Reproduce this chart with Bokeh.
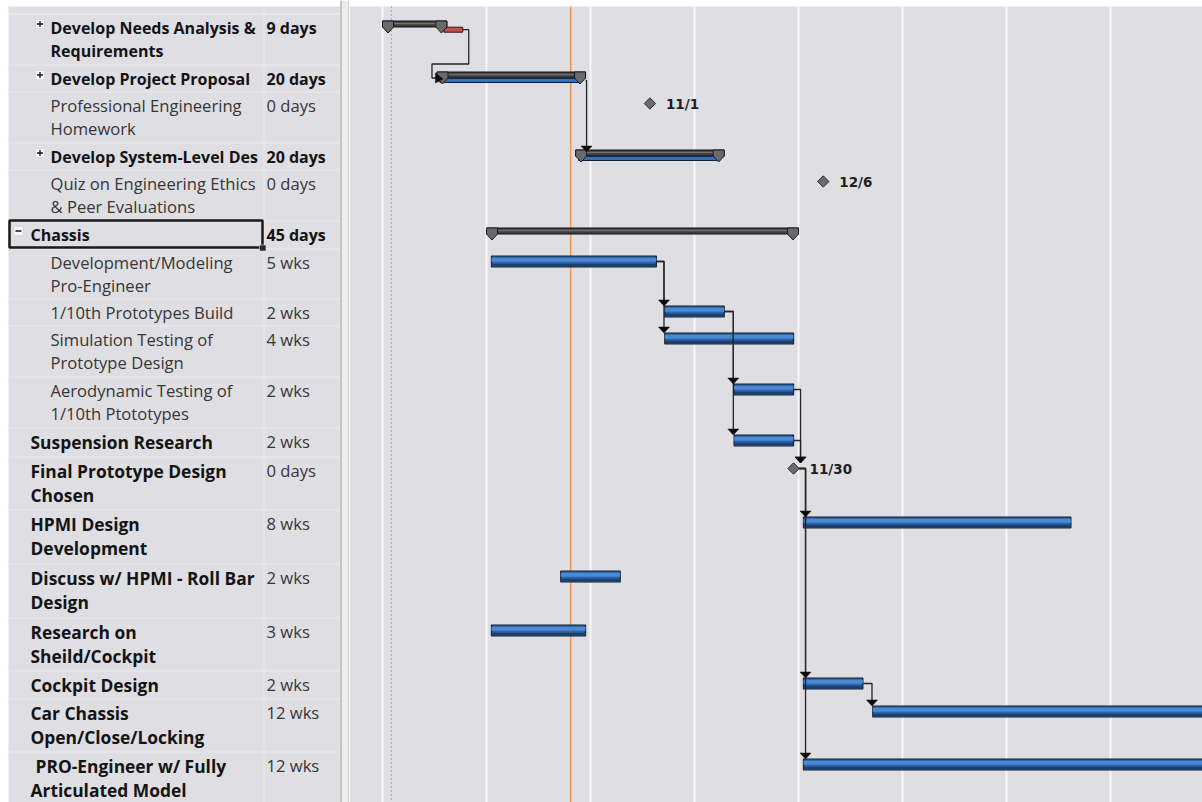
import numpy as np
from bokeh.plotting import figure
from bokeh.layouts import row
from bokeh.models import Range1d
from bokeh.core.properties import value
from bokeh.embed import file_html
from bokeh.resources import INLINE

# ------------------------------------------------------------------ data
task_names = [
    "Develop Needs Analysis &\nRequirements",
    "Develop Project Proposal",
    "Professional Engineering\nHomework",
    "Develop System-Level Des",
    "Quiz on Engineering Ethics\n& Peer Evaluations",
    "Chassis",
    "Development/Modeling\nPro-Engineer",
    "1/10th Prototypes Build",
    "Simulation Testing of\nPrototype Design",
    "Aerodynamic Testing of\n1/10th Ptototypes",
    "Suspension Research",
    "Final Prototype Design\nChosen",
    "HPMI Design\nDevelopment",
    "Discuss w/ HPMI - Roll Bar\nDesign",
    "Research on\nSheild/Cockpit",
    "Cockpit Design",
    "Car Chassis\nOpen/Close/Locking",
    " PRO-Engineer w/ Fully\nArticulated Model",
]
durations = ["9 days", "20 days", "0 days", "20 days", "0 days", "45 days",
             "5 wks", "2 wks", "4 wks", "2 wks", "2 wks", "0 days",
             "8 wks", "2 wks", "3 wks", "2 wks", "12 wks", "12 wks"]
task_kind = ["summary", "summary", "milestone", "summary", "milestone", "summary",
             "task", "task", "task", "task", "task", "milestone",
             "task", "task", "task", "task", "task", "task"]
outline_level = [1, 1, 1, 1, 1, 0, 1, 1, 1, 1, 0, 0, 0, 0, 0, 0, 0, 0]
expand_state = ["+", "+", "", "+", "", "-", "", "", "", "", "", "", "", "", "", "", "", ""]
bold_name = [True, True, False, True, False, True, False, False, False, False,
             True, True, True, True, True, True, True, True]
bold_duration = [True, True, False, True, False, True] + [False] * 12

# days counted from the first timescale gridline
start_day = [0, 11, 54, 39, 89, 21, 22, 57, 57, 71, 71, 83, 85, 36, 22, 85, 99, 85]
finish_day = [13, 41, 54, 69, 89, 84, 55.3, 69, 83, 83, 83, 83, 139, 48, 41, 97, 183, 169]
# rolled-up bars shown under collapsed summaries
rollup_start = [12.4, 11.6, None, 39.6, None, None] + [None] * 12
rollup_finish = [16.2, 40.0, None, 68.0, None, None] + [None] * 12
rollup_critical = [True, False, False, False, False, False] + [False] * 12
milestone_label = ["", "", "11/1", "", "12/6", "", "", "", "", "", "", "11/30",
                   "", "", "", "", "", ""]
links = [(0, 1), (1, 3), (6, 7), (6, 8), (7, 9), (7, 10), (9, 11), (10, 11),
         (11, 12), (11, 15), (11, 17), (15, 16)]
timescale_grid_days = [0, 21, 42, 63, 84, 105, 126, 147]
status_date_day = 38
project_start_day = 1.8
selected_row = 5

# ------------------------------------------------------------------ layout constants
W, H = 1202, 802
SPLIT = 349
PX_PER_DAY = 104 / 21
ORIGIN_PX = 382
GREY = "#dfdee3"
row_heights = [51, 27, 51, 27, 51, 28, 50, 27, 51, 51, 29, 53, 54, 54, 53, 28, 53, 53]
tops = np.concatenate([[14], 14 + np.cumsum(row_heights)[:-1]]).astype(float)
FONT = value("Open Sans")


def d(px):
    return px / PX_PER_DAY


def base_fig(width, xr):
    p = figure(width=width, height=H, x_range=xr, y_range=Range1d(H, 0),
               toolbar_location=None, output_backend="svg", min_border=0,
               x_axis_location=None, y_axis_location=None, outline_line_color=None,
               background_fill_color="white", border_fill_color="white")
    p.grid.visible = False
    return p

# ------------------------------------------------------------------ table
tbl = base_fig(SPLIT, Range1d(0, SPLIT))
tbl.quad(left=8, right=340, top=6, bottom=H, fill_color=GREY, line_color=None)
tbl.segment(x0=8, x1=340, y0=tops - 0.5, y1=tops - 0.5, color="#ebebee", line_width=1)
tbl.segment(x0=[8], x1=[340], y0=[13.5], y1=[13.5], color="#ebebee", line_width=1)
tbl.segment(x0=[263.5], x1=[263.5], y0=[6], y1=[H], color="#e9e9ec", line_width=1)
# splitter
tbl.quad(left=340, right=349, top=0, bottom=H, fill_color="#ececec", line_color=None)
tbl.segment(x0=[340.5, 348.5], x1=[340.5, 348.5], y0=[0, 0], y1=[H, H],
            color=["#9c9c9c", "#b8b8b8"], line_width=1)

groups = {}   # (style, size, color) -> lists


def add_text(style, size, color, x, y, t):
    key = (style, size, color)
    gdict = groups.setdefault(key, {"x": [], "y": [], "t": []})
    gdict["x"].append(x)
    gdict["y"].append(y)
    gdict["t"].append(t)


for i, name in enumerate(task_names):
    x0 = 50 if outline_level[i] == 1 else 30
    big = bold_name[i] and outline_level[i] == 0 and task_kind[i] != "summary"
    gap = 24.5 if big else 23
    if bold_name[i]:
        style, size, color = "bold", ("17.4px" if big else "16px"), "#141414"
    else:
        style, size, color = "normal", "16.6px", "#363636"
    for k, line in enumerate(name.split("\n")):
        lead = len(line) - len(line.lstrip(" "))
        add_text(style, size, color, x0 + 5 * lead, tops[i] + 13 + k * gap, line.strip())
    if bold_duration[i]:
        add_text("bold", "16px", "#141414", 266, tops[i] + 13, durations[i])
    else:
        add_text("normal", "16.6px", "#363636", 266, tops[i] + 13, durations[i])

for (style, size, color), gd in groups.items():
    tbl.text(x=gd["x"], y=gd["y"], text=gd["t"], text_font=FONT, text_font_size=size,
             text_font_style=style, text_color=color, text_baseline="middle")

# expand / collapse boxes
for i, s in enumerate(expand_state):
    if not s:
        continue
    cx = 39.5 if outline_level[i] == 1 else 18
    cy = tops[i] + 9.5
    tbl.quad(left=cx - 4.5, right=cx + 4.5, top=cy - 4.5, bottom=cy + 4.5,
             fill_color="#f8f8f8", line_color="#d0d0d0", line_width=0.5)
    tbl.segment(x0=[cx - 3], x1=[cx + 3], y0=[cy], y1=[cy], color="#111", line_width=1.3)
    if s == "+":
        tbl.segment(x0=[cx], x1=[cx], y0=[cy - 3], y1=[cy + 3], color="#111", line_width=1.3)

# selection box around the Chassis cell
st = tops[selected_row]
tbl.quad(left=9, right=262, top=st - 1, bottom=st + 26, fill_color=None,
         line_color="#1a1a1a", line_width=2.5)
tbl.quad(left=259, right=265.5, top=st + 23.5, bottom=st + 29.5, fill_color="#2a2a2a",
         line_color="#e0e0e0", line_width=0.6)

# ------------------------------------------------------------------ gantt
g = base_fig(W - SPLIT, Range1d(d(SPLIT - ORIGIN_PX), d(W - ORIGIN_PX)))
g.quad(left=d(SPLIT - ORIGIN_PX), right=d(W - ORIGIN_PX), top=6, bottom=H,
       fill_color=GREY, line_color=None)
g.segment(x0=timescale_grid_days, x1=timescale_grid_days, y0=6, y1=H,
          color="#f6f6f8", line_width=2)
g.segment(x0=[project_start_day], x1=[project_start_day], y0=[6], y1=[H],
          color="#7a7a7a", line_width=1, line_dash="1 3")
g.segment(x0=[status_date_day], x1=[status_date_day], y0=[6], y1=[H],
          color="#f59a44", line_width=1.5)

# rolled-up bars
for i in range(len(task_names)):
    if rollup_start[i] is None:
        continue
    t = tops[i]
    if rollup_critical[i]:
        g.quad(left=rollup_start[i], right=rollup_finish[i], top=t + 12.7, bottom=t + 17.7,
               fill_color="#c0504d", line_color="#3a1616", line_width=1)
    else:
        g.quad(left=rollup_start[i], right=rollup_finish[i], top=t + 12.5, bottom=t + 17,
               fill_color="#3571bc", line_color="#10203a", line_width=1)

# summary bars
CAP = d(11)
for i in range(len(task_names)):
    if task_kind[i] != "summary":
        continue
    t = tops[i] + 6.5
    s, f = start_day[i], finish_day[i]
    g.quad(left=s, right=f, top=t, bottom=t + 6, fill_color="#3e3e3e",
           line_color="#111111", line_width=1)
    g.quad(left=s, right=f, top=t + 1.8, bottom=t + 3.2, fill_color="#707070",
           line_color=None)
    g.patches(xs=[[s, s + CAP, s + CAP, s + CAP / 2, s],
                  [f - CAP, f, f, f - CAP / 2, f - CAP]],
              ys=[[t, t, t + 6, t + 12, t + 6], [t, t, t + 6, t + 12, t + 6]],
              fill_color="#6a6a6a", line_color="#1c1c1c", line_width=1)

# task bars
ti = [i for i in range(len(task_names)) if task_kind[i] == "task"]
bs = [start_day[i] for i in ti]
bf = [finish_day[i] for i in ti]
bt = np.array([tops[i] for i in ti])
g.quad(left=bs, right=bf, top=bt + 6.5, bottom=bt + 17.5, fill_color="#2d62a6",
       line_color="#141c26", line_width=1.2)
g.quad(left=bs, right=bf, top=bt + 8.2, bottom=bt + 12.2, fill_color="#4a88d4",
       line_color=None)
g.quad(left=bs, right=bf, top=bt + 14.2, bottom=bt + 16.8, fill_color="#1d3f6c",
       line_color=None)

# links
def exit_point(i):
    t = tops[i]
    if task_kind[i] == "summary":
        if rollup_critical[i]:
            return rollup_finish[i], t + 15.2
        return finish_day[i], t + 15
    if task_kind[i] == "milestone":
        return start_day[i] + d(5), t + 11
    return finish_day[i], t + 12


def entry_tip(j):
    t = tops[j]
    if task_kind[j] == "summary":
        return t + 8.5
    if task_kind[j] == "milestone":
        return t + 5.5
    return t + 6.5


paths_x, paths_y, arr_x, arr_y = [], [], [], []
AW = d(5.5)
for (a, b) in links:
    ex, ey = exit_point(a)
    sb = start_day[b]
    off = d(1) if task_kind[a] == "summary" else d(7)
    if (sb - ex) * PX_PER_DAY >= 7:
        vx = sb - d(0.8)
    else:
        vx = ex + off
    tip = entry_tip(b)
    if vx - sb > 4:
        # loop back to the left of the successor
        lx = ex + d(6)
        by = tops[b] - 1.5
        ly = tops[b] + 12.5
        xl = sb - d(5)
        paths_x.append([ex, lx, lx, xl, xl, sb - d(1)])
        paths_y.append([ey, ey, by, by, ly, ly])
        arr_x.append([sb - d(1.5), sb - d(1.5), sb + d(6)])
        arr_y.append([ly - 5, ly + 5, ly + 1])
    else:
        paths_x.append([ex, vx, vx])
        paths_y.append([ey, ey, tip - 6])
        arr_x.append([vx - AW, vx + AW, vx])
        arr_y.append([tip - 6, tip - 6, tip])
g.multi_line(xs=paths_x, ys=paths_y, line_color="#262626", line_width=1.3)
g.patches(xs=arr_x, ys=arr_y, fill_color="#0c0c0c", line_color="#0c0c0c", line_width=0.5)

# milestones
mi = [i for i in range(len(task_names)) if task_kind[i] == "milestone"]
mx = [start_day[i] for i in mi]
my = [tops[i] + 11 for i in mi]
g.scatter(x=mx, y=my, marker="square", angle=np.pi / 4, size=8,
          fill_color="#6c6c6c", line_color="#2a2a2a", line_width=1)
g.text(x=[m + d(16) for m in mx], y=my, text=[milestone_label[i] for i in mi],
       text_font=value("DejaVu Sans"), text_font_size="13.5px", text_font_style="bold",
       text_color="#1e1e1e", text_baseline="middle")

layout = row(tbl, g, spacing=0)
open("out.html", "w").write(file_html(layout, INLINE))
